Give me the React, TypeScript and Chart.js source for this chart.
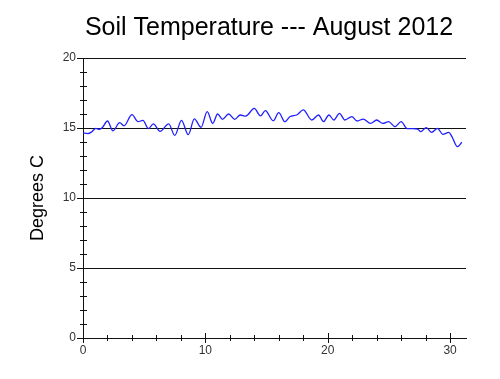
import React, { useEffect, useRef } from "react";
import { Chart, registerables } from "chart.js";

Chart.register(...registerables);

const titleText = "Soil Temperature --- August 2012";
const yAxisLabel = "Degrees C";

const days = [
  0, 0.4, 0.7, 1.05, 1.35, 1.6, 2.0, 2.45, 3.0, 3.35, 4.0, 4.5, 4.9, 5.35, 5.75,
  6.3, 7.0, 7.5, 8.05, 8.6, 9.1, 9.65, 10.15, 10.6, 11.0, 11.4, 11.9, 12.4, 12.85,
  13.3, 14.0, 14.5, 14.9, 15.55, 16.0, 16.5, 16.9, 17.5, 18.0, 18.7, 19.25, 19.65,
  20.1, 20.5, 20.96, 21.4, 21.97, 22.4, 22.9, 23.5, 24.0, 24.5, 24.97, 25.5, 26.0,
  26.5, 27.0, 27.35, 27.6, 28.05, 28.5, 28.97, 29.4, 29.9, 30.15, 30.6, 30.96,
];
const temps = [
  14.65, 14.6, 14.72, 14.98, 14.9, 15.05, 15.5, 14.8, 15.38, 15.15, 15.95, 15.45,
  15.55, 14.95, 15.3, 14.76, 15.3, 14.47, 15.55, 14.52, 15.65, 15.05, 16.17, 15.33,
  16.0, 15.62, 16.0, 15.62, 15.93, 15.85, 16.4, 15.86, 16.24, 15.52, 16.1, 15.45,
  15.8, 15.95, 16.29, 15.57, 15.93, 15.45, 15.93, 15.57, 16.05, 15.57, 15.81, 15.5,
  15.64, 15.33, 15.57, 15.33, 15.45, 15.1, 15.45, 14.95, 14.95, 14.92, 14.74, 15.02,
  14.69, 14.98, 14.55, 14.69, 14.38, 13.67, 13.98,
];

const xTickLabels = [0, 10, 20, 30];
const xMinorTicks = [2, 4, 6, 8, 12, 14, 16, 18, 22, 24, 26, 28];
const yTickLabels = [0, 5, 10, 15, 20];
const yMinorTicks = [1, 2, 3, 4, 6, 7, 8, 9, 11, 12, 13, 14, 16, 17, 18, 19];

const tickFont = { family: '"Liberation Sans Narrow", "Liberation Sans", Arial, sans-serif', size: 12 };

export default function App() {
  const ref = useRef<HTMLCanvasElement>(null);

  useEffect(() => {
    if (!ref.current) return;
    const tickPlugin = {
      id: "tickMarks",
      afterDraw(chart: any) {
        const ctx = chart.ctx;
        const xs = chart.scales.x;
        const ys = chart.scales.y;
        const area = chart.chartArea;
        ctx.save();
        ctx.strokeStyle = "#111";
        ctx.lineWidth = 1;
        ctx.beginPath();
        xTickLabels.forEach((v) => {
          const px = Math.round(xs.getPixelForValue(v)) + 0.5;
          ctx.moveTo(px, area.bottom - 5);
          ctx.lineTo(px, area.bottom + 5);
        });
        xMinorTicks.forEach((v) => {
          const px = Math.round(xs.getPixelForValue(v)) + 0.5;
          ctx.moveTo(px, area.bottom - 3);
          ctx.lineTo(px, area.bottom + 3);
        });
        yTickLabels.forEach((v) => {
          const py = Math.round(ys.getPixelForValue(v)) + 0.5;
          ctx.moveTo(area.left - 6, py);
          ctx.lineTo(area.left + 1, py);
        });
        yMinorTicks.forEach((v) => {
          const py = Math.round(ys.getPixelForValue(v)) + 0.5;
          ctx.moveTo(area.left - 3, py);
          ctx.lineTo(area.left + 4, py);
        });
        ctx.stroke();
        ctx.restore();
      },
    };

    const chart = new Chart(ref.current, {
      type: "line",
      data: {
        datasets: [
          {
            data: days.map((d, i) => ({ x: d, y: temps[i] })),
            borderColor: "#2020ff",
            borderWidth: 1.3,
            pointRadius: 0,
            cubicInterpolationMode: "monotone",
            fill: false,
            xAxisID: "x",
            yAxisID: "y",
          },
        ],
      },
      options: {
        responsive: false,
        animation: false,
        layout: { padding: { left: 0, right: -38, top: 0, bottom: 0 } },
        plugins: {
          legend: { display: false },
          tooltip: { enabled: false },
          title: {
            display: true,
            text: titleText,
            color: "#000",
            font: { family: '"Liberation Sans", Arial, sans-serif', size: 25, weight: "normal", lineHeight: 1.2 },
            padding: { top: 13, bottom: 15 },
          },
        },
        scales: {
          x: {
            type: "linear",
            min: 0,
            max: 31.3,
            afterBuildTicks: (scale: any) => {
              scale.ticks = xTickLabels.map((v) => ({ value: v }));
            },
            afterFit: (scale: any) => {
              scale.height = 41;
            },
            grid: { display: false, drawTicks: false },
            border: { display: true, color: "#111", width: 1 },
            ticks: { color: "#333", font: tickFont, padding: 5, maxRotation: 0, autoSkip: false },
          },
          y: {
            type: "linear",
            position: "left",
            min: 0,
            max: 20,
            afterBuildTicks: (scale: any) => {
              scale.ticks = yTickLabels.map((v) => ({ value: v }));
            },
            afterFit: (scale: any) => {
              scale.width = 83;
            },
            grid: { display: true, color: "#111", lineWidth: 1, drawTicks: false },
            border: { display: true, color: "#111", width: 1 },
            ticks: { color: "#333", font: tickFont, padding: 7 },
            title: {
              display: true,
              text: yAxisLabel,
              color: "#000",
              font: { family: '"Liberation Sans", Arial, sans-serif', size: 18, lineHeight: 1.2 },
              padding: { top: 27, bottom: 0 },
            },
          },
          rightSpace: {
            type: "linear",
            position: "right",
            min: 0,
            max: 20,
            afterFit: (scale: any) => {
              scale.width = 72;
            },
            grid: { display: false, drawTicks: false },
            border: { display: false },
            ticks: { display: false },
          },
        },
      },
      plugins: [tickPlugin],
    });
    return () => chart.destroy();
  }, []);

  return (
    <div style={{ position: "absolute", left: 0, top: 0, width: 500, height: 379, background: "#fff" }}>
      <canvas ref={ref} width={500} height={379} />
    </div>
  );
}
